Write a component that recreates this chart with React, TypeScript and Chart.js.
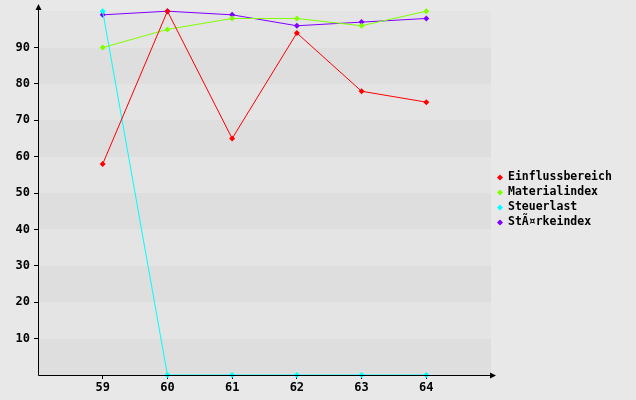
import React, { useEffect, useRef } from "react";
import { Chart, registerables } from "chart.js";

Chart.register(...registerables);

const categories = [59, 60, 61, 62, 63, 64];
const seriesNames = ["Einflussbereich", "Materialindex", "Steuerlast", "StÃ¤rkeindex"];
const einfluss = [58, 100, 65, 94, 78, 75];
const material = [90, 95, 98, 98, 96, 100];
const steuer = [100, 0, 0, 0, 0, 0];
const staerke = [99, 100, 99, 96, 97, 98];
const yTicks = [10, 20, 30, 40, 50, 60, 70, 80, 90];
const colors = ["#ff0000", "#80ff00", "#00ffff", "#8000ff"];

const FONT = "DejaVu Sans Mono";

const decor = {
  id: "decor",
  beforeDraw(chart: any) {
    const { ctx, chartArea, scales } = chart;
    ctx.save();
    ctx.fillStyle = "#e8e8e8";
    ctx.fillRect(0, 0, chart.width, chart.height);
    const y = scales.y;
    for (let v = 0; v < 100; v += 10) {
      const yt = Math.round(y.getPixelForValue(v + 10));
      const yb = Math.round(y.getPixelForValue(v));
      ctx.fillStyle = (v / 10) % 2 === 0 ? "#dedede" : "#e4e4e4";
      ctx.fillRect(chartArea.left, yt, chartArea.right - chartArea.left, yb - yt);
    }
    ctx.restore();
  },
  afterDraw(chart: any) {
    const { ctx, chartArea } = chart;
    ctx.save();
    ctx.strokeStyle = "#000";
    ctx.fillStyle = "#000";
    ctx.lineWidth = 1;
    const l = Math.round(chartArea.left) + 0.5;
    const b = Math.round(chartArea.bottom) + 0.5;
    ctx.beginPath();
    ctx.moveTo(l, b);
    ctx.lineTo(l, 5);
    ctx.moveTo(l, b);
    ctx.lineTo(chartArea.right + 4, b);
    ctx.stroke();
    ctx.beginPath();
    ctx.moveTo(l, 4);
    ctx.lineTo(l - 3, 10);
    ctx.lineTo(l + 3, 10);
    ctx.closePath();
    ctx.fill();
    const ax = chartArea.right + 5;
    ctx.beginPath();
    ctx.moveTo(ax, b);
    ctx.lineTo(ax - 6, b - 3);
    ctx.lineTo(ax - 6, b + 3);
    ctx.closePath();
    ctx.fill();

    // legend
    ctx.font = `bold 11.5px "${FONT}"`;
    ctx.textBaseline = "middle";
    ctx.textAlign = "left";
    const lx = chartArea.right + 9;
    const y0 = chart.height / 2 - 22.5;
    chart.data.datasets.forEach((ds: any, i: number) => {
      const yy = y0 + i * 15;
      ctx.fillStyle = ds.borderColor;
      ctx.beginPath();
      ctx.moveTo(lx, yy - 3);
      ctx.lineTo(lx + 3, yy);
      ctx.lineTo(lx, yy + 3);
      ctx.lineTo(lx - 3, yy);
      ctx.closePath();
      ctx.fill();
      ctx.fillStyle = "#000";
      ctx.fillText(ds.label, lx + 8, yy);
    });
    ctx.restore();
  },
};

export default function App() {
  const ref = useRef<HTMLCanvasElement>(null);
  useEffect(() => {
    document.body.style.margin = "0";
    const series = [einfluss, material, steuer, staerke];
    const chart = new Chart(ref.current!, {
      type: "line",
      data: {
        datasets: series.map((vals, i) => ({
          label: seriesNames[i],
          data: vals.map((v, j) => ({ x: categories[j], y: v })),
          borderColor: colors[i],
          backgroundColor: colors[i],
          borderWidth: 1,
          pointStyle: "rectRot",
          pointRadius: 3,
          pointBorderWidth: 0,
          tension: 0,
          clip: false as any,
        })),
      },
      options: {
        animation: false,
        responsive: false,
        maintainAspectRatio: false,
        layout: { padding: { left: 0, top: 10, right: 145, bottom: 0 } },
        plugins: { legend: { display: false }, tooltip: { enabled: false } },
        scales: {
          x: {
            type: "linear",
            min: 58,
            max: 65,
            afterBuildTicks: (s: any) => {
              s.ticks = [58, ...categories, 65].map((v) => ({ value: v }));
            },
            ticks: {
              autoSkip: false,
              color: "#000",
              padding: 2,
              font: { family: FONT, weight: "bold", size: 12 },
              callback: (v: any) => (categories.includes(Number(v)) ? String(v) : ""),
            },
            grid: {
              drawOnChartArea: false,
              tickLength: 4,
              color: (c: any) => (c.tick && categories.includes(c.tick.value) ? "#000" : "rgba(0,0,0,0)"),
            },
            border: { display: false },
            afterFit: (s: any) => {
              s.height = 25;
            },
          },
          y: {
            min: 0,
            max: 100,
            afterBuildTicks: (s: any) => {
              s.ticks = [0, ...yTicks, 100].map((v) => ({ value: v }));
            },
            ticks: {
              autoSkip: false,
              color: "#000",
              padding: 4,
              font: { family: FONT, weight: "bold", size: 12 },
              callback: (v: any) => (yTicks.includes(Number(v)) ? String(v) : ""),
            },
            grid: {
              drawOnChartArea: false,
              tickLength: 4,
              color: (c: any) => (c.tick && yTicks.includes(c.tick.value) ? "#000" : "rgba(0,0,0,0)"),
            },
            border: { display: false },
            afterFit: (s: any) => {
              s.width = 38;
            },
          },
        },
      },
      plugins: [decor],
    });
    return () => chart.destroy();
  }, []);
  return (
    <div style={{ width: 636, height: 400 }}>
      <canvas ref={ref} width={636} height={400} style={{ display: "block" }} />
    </div>
  );
}
